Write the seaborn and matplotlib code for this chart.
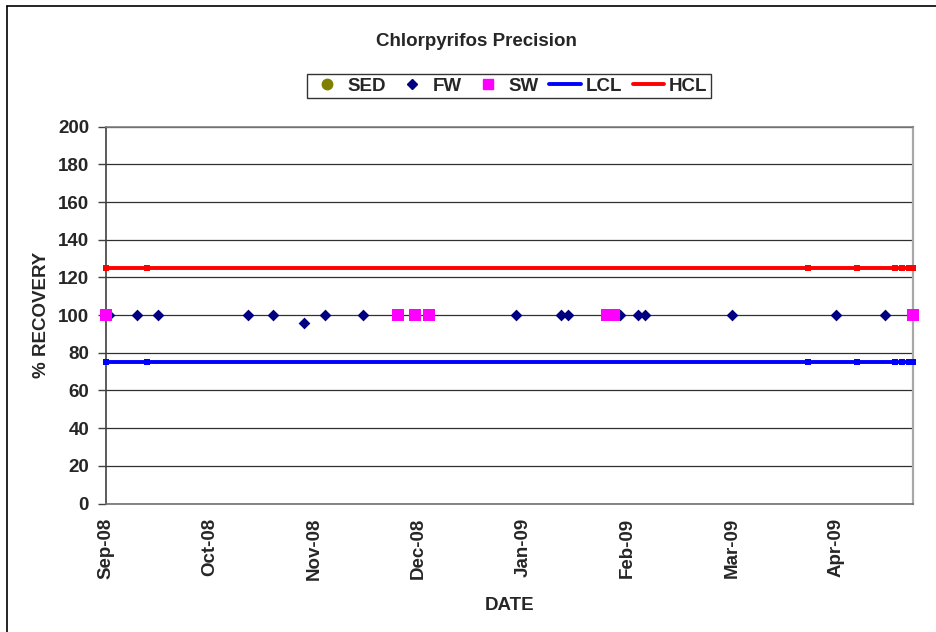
import matplotlib
matplotlib.use("Agg")
import matplotlib.pyplot as plt
from matplotlib.lines import Line2D
import numpy as np
import pandas as pd
import seaborn as sns

# ---- data -------------------------------------------------------------
start_date = "2008-09-01"

fw_dates = ["2008-09-02", "2008-09-10", "2008-09-16", "2008-10-12", "2008-10-19",
            "2008-10-28", "2008-11-03", "2008-11-14", "2008-12-28", "2009-01-10",
            "2009-01-12", "2009-01-27", "2009-02-01", "2009-02-03", "2009-02-28",
            "2009-03-30", "2009-04-13"]
fw_recovery = [100, 100, 100, 100, 100, 96, 100, 100, 100, 100,
               100, 100, 100, 100, 100, 100, 100]

sw_dates = ["2008-09-01", "2008-11-24", "2008-11-29", "2008-12-03",
            "2009-01-23", "2009-01-25", "2009-04-21"]
sw_recovery = [100, 100, 100, 100, 100, 100, 100]

limit_dates = ["2008-09-01", "2008-09-13", "2009-03-22", "2009-04-05",
               "2009-04-16", "2009-04-18", "2009-04-20", "2009-04-21"]
lcl_value = 75
hcl_value = 125

tick_labels = ["Sep-08", "Oct-08", "Nov-08", "Dec-08",
               "Jan-09", "Feb-09", "Mar-09", "Apr-09"]
tick_step_days = 30

# ---- frames -------------------------------------------------------------
t0 = pd.Timestamp(start_date)


def day_offset(dates):
    return [(pd.Timestamp(d) - t0).days for d in dates]


fw = pd.DataFrame({"day": day_offset(fw_dates), "recovery": fw_recovery})
sw = pd.DataFrame({"day": day_offset(sw_dates), "recovery": sw_recovery})
lim_days = day_offset(limit_dates)
lcl = pd.DataFrame({"day": lim_days, "recovery": [lcl_value] * len(lim_days)})
hcl = pd.DataFrame({"day": lim_days, "recovery": [hcl_value] * len(lim_days)})

# ---- style --------------------------------------------------------------
sns.set_theme(style="white")
plt.rcParams["font.family"] = ["Liberation Sans", "DejaVu Sans"]
plt.rcParams["font.weight"] = "bold"
FS = 13.5

C_SED = "#808000"
C_FW = "#000080"
C_SW = "#FF00FF"
C_LCL = "#0000FF"
C_HCL = "#FF0000"

fig = plt.figure(figsize=(9.36, 6.32), dpi=100)
ax = fig.add_axes([0.1129, 0.2033, 0.9751 - 0.1129, 0.7995 - 0.2033])

# horizontal gridlines
ax.set_ylim(0, 200)
ax.set_yticks(np.arange(0, 201, 20))
ax.yaxis.grid(True, color="#303030", linewidth=0.9)
ax.xaxis.grid(False)
ax.set_axisbelow(True)

# control limits
sns.lineplot(data=lcl, x="day", y="recovery", ax=ax, color=C_LCL, linewidth=2.8,
             marker="s", markersize=3.8, markeredgewidth=0, clip_on=False,
             zorder=3, legend=False)
sns.lineplot(data=hcl, x="day", y="recovery", ax=ax, color=C_HCL, linewidth=2.8,
             marker="s", markersize=3.8, markeredgewidth=0, clip_on=False,
             zorder=3, legend=False)

# samples
sns.scatterplot(data=fw, x="day", y="recovery", ax=ax, marker="D", s=36,
                color=C_FW, edgecolor=C_FW, linewidth=0, clip_on=False,
                zorder=4, legend=False)
sns.scatterplot(data=sw, x="day", y="recovery", ax=ax, marker="s", s=66,
                color=C_SW, edgecolor=C_SW, linewidth=0, clip_on=False,
                zorder=5, legend=False)

# axes
ax.set_xlim(0, max(sw["day"].max(), max(lim_days)))
ax.set_xticks([i * tick_step_days for i in range(len(tick_labels))])
ax.set_xticklabels(tick_labels, rotation=90, fontsize=FS, fontweight="bold",
                   va="top", ha="center")
ax.tick_params(axis="x", length=0, pad=10)
ax.tick_params(axis="y", direction="out", length=6, width=1, color="#404040",
               pad=6, labelsize=FS, left=True)
for lab in ax.get_yticklabels():
    lab.set_fontweight("bold")

for side, col, lw in [("left", "#404040", 1.2), ("bottom", "#707070", 1.2),
                      ("top", "#808080", 1.2), ("right", "#a8a8a8", 1.6)]:
    ax.spines[side].set_visible(True)
    ax.spines[side].set_color(col)
    ax.spines[side].set_linewidth(lw)

ax.set_ylabel("% RECOVERY", fontsize=FS, fontweight="bold")
ax.yaxis.set_label_coords(-0.069, 0.5)
ax.set_xlabel("DATE", fontsize=FS, fontweight="bold")
ax.xaxis.set_label_coords(0.501, -0.249)

fig.text(0.509, 1 - 42 / 632, "Chlorpyrifos Precision", ha="center",
         va="center", fontsize=FS, fontweight="bold")

# legend
handles = [
    Line2D([], [], linestyle="none", marker="o", markersize=7.5, color=C_SED),
    Line2D([], [], linestyle="none", marker="D", markersize=5.5, color=C_FW),
    Line2D([], [], linestyle="none", marker="s", markersize=7.5, color=C_SW),
    Line2D([], [], color=C_LCL, linewidth=2.8),
    Line2D([], [], color=C_HCL, linewidth=2.8),
]
leg = fig.legend(handles, ["SED", "FW", "SW", "LCL", "HCL"], ncol=5,
                 loc="center", bbox_to_anchor=(0.544, 1 - 86 / 632),
                 prop={"size": FS, "weight": "bold"}, frameon=True,
                 fancybox=False, shadow=False, handlelength=1.7,
                 handletextpad=0.25, columnspacing=0.55, borderpad=0.2,
                 borderaxespad=0)
leg.get_frame().set_edgecolor("#000000")
leg.get_frame().set_linewidth(1.0)

# outer chart frame (top and left edges)
fig.add_artist(Line2D([7.5 / 936, 7.5 / 936], [0, 1 - 6 / 632],
                      color="#000000", linewidth=1.2, transform=fig.transFigure))
fig.add_artist(Line2D([7.5 / 936, 1], [1 - 6 / 632, 1 - 6 / 632],
                      color="#000000", linewidth=1.2, transform=fig.transFigure))

fig.savefig("out.png", dpi=100, facecolor="white")
